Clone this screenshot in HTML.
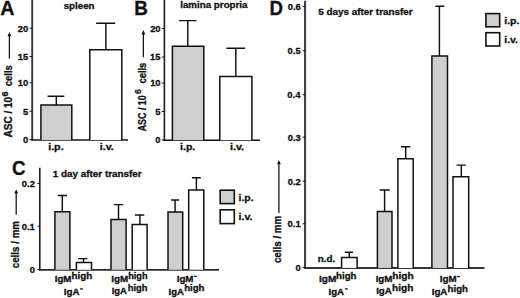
<!DOCTYPE html>
<html><head><meta charset="utf-8"><style>
html,body{margin:0;padding:0;background:#fff;}
svg{display:block;}
text{font-family:"Liberation Sans",sans-serif;font-weight:bold;stroke:#111;stroke-width:0.3px;}
</style></head><body>
<svg width="520" height="298" viewBox="0 0 520 298">
<rect width="520" height="298" fill="#fff"/>
<text transform="translate(0.31,14.50) scale(0.985,1)" font-size="20" fill="#111">A</text>
<line x1="32.2" y1="0" x2="32.2" y2="140.8" stroke="#383838" stroke-width="1.9"/>
<line x1="31.3" y1="140.0" x2="128" y2="140.0" stroke="#151515" stroke-width="1.6"/>
<line x1="29.6" y1="28.2" x2="32" y2="28.2" stroke="#111" stroke-width="1.0"/>
<text transform="translate(17.84,31.65) scale(0.950,1)" font-size="9.9" fill="#111">20</text>
<line x1="29.6" y1="56.5" x2="32" y2="56.5" stroke="#111" stroke-width="1.0"/>
<text transform="translate(17.70,59.95) scale(0.950,1)" font-size="9.9" fill="#111">15</text>
<line x1="29.6" y1="82.8" x2="32" y2="82.8" stroke="#111" stroke-width="1.0"/>
<text transform="translate(17.84,86.25) scale(0.950,1)" font-size="9.9" fill="#111">10</text>
<line x1="29.6" y1="111.3" x2="32" y2="111.3" stroke="#111" stroke-width="1.0"/>
<text transform="translate(22.92,114.75) scale(0.950,1)" font-size="9.9" fill="#111">5</text>
<line x1="29.6" y1="139.6" x2="32" y2="139.6" stroke="#111" stroke-width="1.0"/>
<text transform="translate(23.06,143.05) scale(0.950,1)" font-size="9.9" fill="#111">0</text>
<path d="M40.9,140.0 V104.9 H71.8 V140.0" fill="#cfcfcf" stroke="#111" stroke-width="1.5"/>
<path d="M56.3,104.9 V96.3 M47.60,96.3 H64.30" fill="none" stroke="#111" stroke-width="1.45"/>
<path d="M89.8,140.0 V49.8 H121.8 V140.0" fill="#fff" stroke="#111" stroke-width="1.5"/>
<path d="M105.9,49.8 V23.3 M96.10,23.3 H115.20" fill="none" stroke="#111" stroke-width="1.45"/>
<text transform="translate(63.66,8.70) scale(1.036,1)" font-size="9.4" fill="#111">spleen</text>
<text transform="translate(48.15,149.90) scale(1.141,1)" font-size="9.4" fill="#111">i.p.</text>
<text transform="translate(99.75,149.90) scale(1.136,1)" font-size="9.4" fill="#111">i.v.</text>
<text transform="translate(11.60,137.55) rotate(-90) scale(1.005,1)" font-size="10.0" fill="#111">ASC / 10</text>
<text transform="translate(7.50,96.42) rotate(-90) scale(1.080,1)" font-size="8.4" fill="#111">6</text>
<text transform="translate(11.60,86.18) rotate(-90) scale(0.946,1)" font-size="10.0" fill="#111">cells</text>
<line x1="9.4" y1="58.6" x2="9.4" y2="35.3" stroke="#111" stroke-width="1.25"/>
<path d="M9.4,32 L11.3,36.3 L7.5,36.3 Z" fill="#111"/>
<text transform="translate(134.37,14.50) scale(0.943,1)" font-size="20" fill="#111">B</text>
<line x1="164.4" y1="0" x2="164.4" y2="141.1" stroke="#1e1e1e" stroke-width="1.6"/>
<line x1="163.6" y1="140.3" x2="260" y2="140.3" stroke="#111" stroke-width="1.6"/>
<line x1="161.8" y1="28.55" x2="164.2" y2="28.55" stroke="#111" stroke-width="1.0"/>
<text transform="translate(150.14,32.00) scale(0.950,1)" font-size="9.9" fill="#111">20</text>
<line x1="161.8" y1="57.0" x2="164.2" y2="57.0" stroke="#111" stroke-width="1.0"/>
<text transform="translate(150.00,60.45) scale(0.950,1)" font-size="9.9" fill="#111">15</text>
<line x1="161.8" y1="83.0" x2="164.2" y2="83.0" stroke="#111" stroke-width="1.0"/>
<text transform="translate(150.14,86.45) scale(0.950,1)" font-size="9.9" fill="#111">10</text>
<line x1="161.8" y1="111.5" x2="164.2" y2="111.5" stroke="#111" stroke-width="1.0"/>
<text transform="translate(155.22,114.95) scale(0.950,1)" font-size="9.9" fill="#111">5</text>
<line x1="161.8" y1="140.0" x2="164.2" y2="140.0" stroke="#111" stroke-width="1.0"/>
<text transform="translate(155.36,143.45) scale(0.950,1)" font-size="9.9" fill="#111">0</text>
<path d="M172.4,140.3 V46.3 H203.8 V140.3" fill="#cfcfcf" stroke="#111" stroke-width="1.5"/>
<path d="M187.8,46.3 V20.6 M179.10,20.6 H196.40" fill="none" stroke="#111" stroke-width="1.45"/>
<path d="M219.8,140.3 V76.4 H251.9 V140.3" fill="#fff" stroke="#111" stroke-width="1.5"/>
<path d="M235.8,76.4 V48.2 M226.30,48.2 H245.10" fill="none" stroke="#111" stroke-width="1.45"/>
<text transform="translate(180.21,8.20) scale(1.041,1)" font-size="9.4" fill="#111">lamina propria</text>
<text transform="translate(180.07,149.90) scale(1.117,1)" font-size="9.4" fill="#111">i.p.</text>
<text transform="translate(230.05,149.90) scale(1.136,1)" font-size="9.4" fill="#111">i.v.</text>
<text transform="translate(145.60,131.32) rotate(-90) scale(0.890,1)" font-size="10.0" fill="#111">ASC / 10</text>
<text transform="translate(140.80,94.11) rotate(-90) scale(1.055,1)" font-size="8.4" fill="#111">6</text>
<text transform="translate(145.60,83.58) rotate(-90) scale(0.942,1)" font-size="10.0" fill="#111">cells</text>
<line x1="143.4" y1="57.2" x2="143.4" y2="33.4" stroke="#111" stroke-width="1.25"/>
<path d="M143.4,30.1 L145.3,34.4 L141.5,34.4 Z" fill="#111"/>
<text transform="translate(12.05,174.60) scale(0.925,1)" font-size="20.3" fill="#111">C</text>
<line x1="39.8" y1="167.8" x2="39.8" y2="270.8" stroke="#1e1e1e" stroke-width="1.6"/>
<line x1="39.0" y1="269.85" x2="219" y2="269.85" stroke="#2c2c2c" stroke-width="1.9"/>
<line x1="37.6" y1="183.5" x2="39.7" y2="183.5" stroke="#111" stroke-width="1.0"/>
<text transform="translate(21.80,186.95) scale(0.950,1)" font-size="9.9" fill="#111">0.2</text>
<line x1="37.6" y1="226.2" x2="39.7" y2="226.2" stroke="#111" stroke-width="1.0"/>
<text transform="translate(21.66,229.65) scale(0.950,1)" font-size="9.9" fill="#111">0.1</text>
<line x1="37.6" y1="269.5" x2="39.7" y2="269.5" stroke="#111" stroke-width="1.0"/>
<text transform="translate(29.66,272.95) scale(0.950,1)" font-size="9.9" fill="#111">0</text>
<path d="M54.9,269.8 V211.8 H69.9 V269.8" fill="#cfcfcf" stroke="#111" stroke-width="1.5"/>
<path d="M62.3,211.8 V195.4 M57.80,195.4 H67.00" fill="none" stroke="#111" stroke-width="1.45"/>
<path d="M76.4,269.8 V262.6 H91.5 V269.8" fill="#fff" stroke="#111" stroke-width="1.5"/>
<path d="M83.5,262.6 V258.6 M78.20,258.6 H87.40" fill="none" stroke="#111" stroke-width="1.45"/>
<path d="M111.0,269.8 V219.5 H126.1 V269.8" fill="#cfcfcf" stroke="#111" stroke-width="1.5"/>
<path d="M118.5,219.5 V204.6 M113.90,204.6 H123.30" fill="none" stroke="#111" stroke-width="1.45"/>
<path d="M132.2,269.8 V224.4 H147.1 V269.8" fill="#fff" stroke="#111" stroke-width="1.5"/>
<path d="M139.9,224.4 V215.0 M134.90,215.0 H144.30" fill="none" stroke="#111" stroke-width="1.45"/>
<path d="M168.0,269.8 V212.0 H182.7 V269.8" fill="#cfcfcf" stroke="#111" stroke-width="1.5"/>
<path d="M175.1,212.0 V200.0 M171.10,200.0 H179.00" fill="none" stroke="#111" stroke-width="1.45"/>
<path d="M188.7,269.8 V190.1 H203.8 V269.8" fill="#fff" stroke="#111" stroke-width="1.5"/>
<path d="M196.4,190.1 V177.7 M191.90,177.7 H200.80" fill="none" stroke="#111" stroke-width="1.45"/>
<text transform="translate(52.66,176.90) scale(1.054,1)" font-size="9.4" fill="#111">1 day after transfer</text>
<rect x="220.2" y="190.2" width="14.1" height="13.4" fill="#cfcfcf" stroke="#111" stroke-width="1.6"/>
<rect x="220.2" y="209.8" width="14.1" height="13.8" fill="#fff" stroke="#111" stroke-width="1.6"/>
<text transform="translate(238.57,200.50) scale(1.109,1)" font-size="9.4" fill="#111">i.p.</text>
<text transform="translate(238.56,220.40) scale(1.127,1)" font-size="9.4" fill="#111">i.v.</text>
<text transform="translate(18.60,268.29) rotate(-90) scale(0.981,1)" font-size="10.0" fill="#111">cells / mm</text>
<line x1="16.2" y1="214.7" x2="16.2" y2="192.60000000000002" stroke="#111" stroke-width="1.25"/>
<path d="M16.2,189.3 L18.099999999999998,193.60000000000002 L14.299999999999999,193.60000000000002 Z" fill="#111"/>
<text transform="translate(54.66,282.10) scale(1.044,1)" font-size="9.4" fill="#111">IgM</text>
<text transform="translate(71.61,279.30) scale(1.094,1)" font-size="9.0" fill="#111">high</text>
<text transform="translate(63.77,294.60) scale(1.036,1)" font-size="9.4" fill="#111">IgA</text>
<line x1="80.1" y1="288.9" x2="82.9" y2="288.9" stroke="#111" stroke-width="1.3"/>
<text transform="translate(111.26,282.20) scale(1.050,1)" font-size="9.4" fill="#111">IgM</text>
<text transform="translate(128.16,279.00) scale(1.021,1)" font-size="9.0" fill="#111">high</text>
<text transform="translate(111.68,294.00) scale(1.008,1)" font-size="9.4" fill="#111">IgA</text>
<text transform="translate(127.75,290.80) scale(1.038,1)" font-size="9.0" fill="#111">high</text>
<text transform="translate(176.66,282.00) scale(1.044,1)" font-size="9.4" fill="#111">IgM</text>
<line x1="194.1" y1="276.4" x2="196.8" y2="276.4" stroke="#111" stroke-width="1.3"/>
<text transform="translate(168.58,294.50) scale(1.015,1)" font-size="9.4" fill="#111">IgA</text>
<text transform="translate(184.13,291.30) scale(1.066,1)" font-size="9.0" fill="#111">high</text>
<text transform="translate(269.58,14.60) scale(0.935,1)" font-size="20" fill="#111">D</text>
<line x1="305.05" y1="0.8" x2="305.05" y2="268.9" stroke="#424242" stroke-width="2.1"/>
<line x1="304.0" y1="267.95" x2="484.5" y2="267.95" stroke="#363636" stroke-width="2.0"/>
<line x1="302.6" y1="6.35" x2="305" y2="6.35" stroke="#111" stroke-width="1.0"/>
<text transform="translate(287.66,9.80) scale(0.950,1)" font-size="9.9" fill="#111">0.6</text>
<line x1="302.6" y1="50.7" x2="305" y2="50.7" stroke="#111" stroke-width="1.0"/>
<text transform="translate(287.56,54.15) scale(0.950,1)" font-size="9.9" fill="#111">0.5</text>
<line x1="302.6" y1="94.6" x2="305" y2="94.6" stroke="#111" stroke-width="1.0"/>
<text transform="translate(287.37,98.05) scale(0.950,1)" font-size="9.9" fill="#111">0.4</text>
<line x1="302.6" y1="137.1" x2="305" y2="137.1" stroke="#111" stroke-width="1.0"/>
<text transform="translate(287.66,140.55) scale(0.950,1)" font-size="9.9" fill="#111">0.3</text>
<line x1="302.6" y1="181.1" x2="305" y2="181.1" stroke="#111" stroke-width="1.0"/>
<text transform="translate(287.70,184.55) scale(0.950,1)" font-size="9.9" fill="#111">0.2</text>
<line x1="302.6" y1="223.8" x2="305" y2="223.8" stroke="#111" stroke-width="1.0"/>
<text transform="translate(287.56,227.25) scale(0.950,1)" font-size="9.9" fill="#111">0.1</text>
<line x1="302.6" y1="267.4" x2="305" y2="267.4" stroke="#111" stroke-width="1.0"/>
<text transform="translate(295.56,270.85) scale(0.950,1)" font-size="9.9" fill="#111">0</text>
<path d="M341.6,267.95 V257.6 H357.1 V267.95" fill="#fff" stroke="#111" stroke-width="1.5"/>
<path d="M349.3,257.6 V252.2 M344.80,252.2 H353.10" fill="none" stroke="#111" stroke-width="1.45"/>
<path d="M377.4,267.95 V211.5 H392.0 V267.95" fill="#cfcfcf" stroke="#111" stroke-width="1.5"/>
<path d="M384.6,211.5 V189.9 M379.70,189.9 H389.80" fill="none" stroke="#111" stroke-width="1.45"/>
<path d="M397.9,267.95 V158.7 H413.2 V267.95" fill="#fff" stroke="#111" stroke-width="1.5"/>
<path d="M405.7,158.7 V146.8 M400.90,146.8 H410.40" fill="none" stroke="#111" stroke-width="1.45"/>
<path d="M431.9,267.95 V55.9 H447.5 V267.95" fill="#cfcfcf" stroke="#111" stroke-width="1.5"/>
<path d="M439.4,55.9 V6.3 M435.40,6.3 H444.30" fill="none" stroke="#111" stroke-width="1.45"/>
<path d="M453.0,267.95 V176.8 H468.7 V267.95" fill="#fff" stroke="#111" stroke-width="1.5"/>
<path d="M461.3,176.8 V165.1 M456.50,165.1 H465.70" fill="none" stroke="#111" stroke-width="1.45"/>
<text transform="translate(317.76,261.60) scale(1.119,1)" font-size="8.8" fill="#111">n.d.</text>
<text transform="translate(318.20,15.20) scale(1.051,1)" font-size="9.4" fill="#111">5 days after transfer</text>
<rect x="485.9" y="13.6" width="13.8" height="13.2" fill="#cfcfcf" stroke="#111" stroke-width="1.6"/>
<rect x="485.9" y="32.7" width="13.8" height="13.3" fill="#fff" stroke="#111" stroke-width="1.6"/>
<text transform="translate(504.27,24.10) scale(1.117,1)" font-size="9.4" fill="#111">i.p.</text>
<text transform="translate(504.28,43.00) scale(1.100,1)" font-size="9.4" fill="#111">i.v.</text>
<text transform="translate(281.40,263.09) rotate(-90) scale(0.979,1)" font-size="10.0" fill="#111">cells / mm</text>
<line x1="278.9" y1="213.0" x2="278.9" y2="163.3" stroke="#111" stroke-width="1.25"/>
<path d="M278.9,160.0 L280.79999999999995,164.3 L277.0,164.3 Z" fill="#111"/>
<text transform="translate(319.05,282.40) scale(1.071,1)" font-size="9.4" fill="#111">IgM</text>
<text transform="translate(336.12,279.40) scale(1.072,1)" font-size="9.0" fill="#111">high</text>
<text transform="translate(328.47,294.60) scale(1.036,1)" font-size="9.4" fill="#111">IgA</text>
<line x1="344.9" y1="288.9" x2="347.7" y2="288.9" stroke="#111" stroke-width="1.3"/>
<text transform="translate(375.67,282.20) scale(1.037,1)" font-size="9.4" fill="#111">IgM</text>
<text transform="translate(392.29,279.00) scale(1.122,1)" font-size="9.0" fill="#111">high</text>
<text transform="translate(376.17,294.20) scale(1.036,1)" font-size="9.4" fill="#111">IgA</text>
<text transform="translate(392.09,291.30) scale(1.122,1)" font-size="9.0" fill="#111">high</text>
<text transform="translate(439.86,282.20) scale(1.044,1)" font-size="9.4" fill="#111">IgM</text>
<line x1="457.2" y1="276.5" x2="460.0" y2="276.5" stroke="#111" stroke-width="1.3"/>
<text transform="translate(431.66,294.60) scale(1.043,1)" font-size="9.4" fill="#111">IgA</text>
<text transform="translate(447.62,291.70) scale(1.072,1)" font-size="9.0" fill="#111">high</text>
</svg>
</body></html>
